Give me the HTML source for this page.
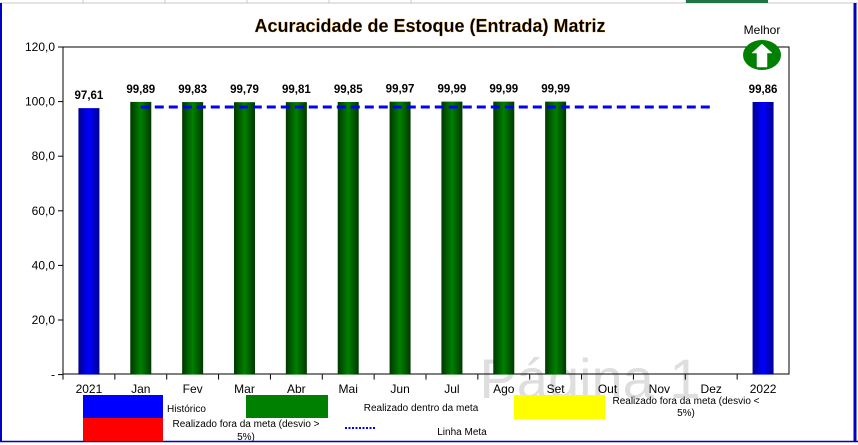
<!DOCTYPE html>
<html><head><meta charset="utf-8"><style>
body{margin:0;background:#fff;width:858px;height:445px;overflow:hidden;font-family:"Liberation Sans",sans-serif}
svg{display:block}
</style></head><body>
<svg id="c" width="858" height="445" xmlns="http://www.w3.org/2000/svg">
<defs>
<linearGradient id="gg" x1="0" x2="1" y1="0" y2="0"><stop offset="0" stop-color="#003800"/><stop offset="0.5" stop-color="#008000"/><stop offset="1" stop-color="#003800"/></linearGradient>
<linearGradient id="gb" x1="0" x2="1" y1="0" y2="0"><stop offset="0" stop-color="#000090"/><stop offset="0.5" stop-color="#0000ff"/><stop offset="1" stop-color="#000090"/></linearGradient>
</defs>
<g>
<line x1="0" y1="3" x2="858" y2="3" stroke="#c8c8c8"/>
<line x1="83" y1="0" x2="83" y2="3" stroke="#c8c8c8"/><line x1="165" y1="0" x2="165" y2="3" stroke="#c8c8c8"/>
<line x1="247" y1="0" x2="247" y2="3" stroke="#c8c8c8"/><line x1="329" y1="0" x2="329" y2="3" stroke="#c8c8c8"/>
<line x1="411" y1="0" x2="411" y2="3" stroke="#c8c8c8"/><line x1="686" y1="0" x2="686" y2="3" stroke="#c8c8c8"/>
<rect x="686" y="0" width="82" height="3" fill="#217346"/>
<line x1="1" y1="3" x2="1" y2="442" stroke="#0000c0" stroke-width="2"/>
<line x1="855" y1="3" x2="855" y2="442" stroke="#0000c0" stroke-width="3"/>
<line x1="0" y1="441.5" x2="858" y2="441.5" stroke="#0000c0" stroke-width="1.5"/>
</g>
<text x="430" y="32" text-anchor="middle" font-size="18" font-weight="bold" fill="#000" stroke="#c87000" stroke-width="0.3">Acuracidade de Estoque (Entrada) Matriz</text>
<text x="590" y="398" text-anchor="middle" font-size="56" fill="#dedede">Página 1</text>
<rect x="63" y="47" width="726" height="327" fill="none" stroke="#000"/>
<g id="yax"></g>
<g id="xax"></g>
<g id="bars"></g>
<g id="meta"></g>
<g>
<text x="762" y="34" text-anchor="middle" font-size="12" fill="#000">Melhor</text>
<ellipse cx="762" cy="55" rx="19" ry="15" fill="#008000"/>
<path d="M762 44 L772 53 L767 53 L767 67 L757 67 L757 53 L752 53 Z" fill="#fff" stroke="#fff" stroke-width="0.5"/>
</g>
<g font-size="10" fill="#000">
<rect x="83" y="395" width="80" height="23" fill="#0000ff"/>
<text x="167" y="412">Histórico</text>
<rect x="246" y="395" width="82" height="23" fill="#008000"/>
<text x="421" y="411" text-anchor="middle">Realizado dentro da meta</text>
<rect x="514" y="395" width="91" height="24" fill="#ffff00"/>
<text x="686" y="404" text-anchor="middle">Realizado fora da meta (desvio &lt;</text>
<text x="686" y="416" text-anchor="middle">5%)</text>
<rect x="83" y="418" width="80" height="23" fill="#ff0000"/>
<text x="246" y="427" text-anchor="middle">Realizado fora da meta (desvio &gt;</text>
<text x="246" y="440" text-anchor="middle">5%)</text>
<line x1="345" y1="428" x2="375" y2="428" stroke="#0000ff" stroke-width="2" stroke-dasharray="2,1.5"/>
<text x="462" y="435" text-anchor="middle">Linha Meta</text>
</g>
</svg>
<script>
const categories=["2021","Jan","Fev","Mar","Abr","Mai","Jun","Jul","Ago","Set","Out","Nov","Dez","2022"];
const values=[97.61,99.89,99.83,99.79,99.81,99.85,99.97,99.99,99.99,99.99,null,null,null,99.86];
const labels=["97,61","99,89","99,83","99,79","99,81","99,85","99,97","99,99","99,99","99,99","","","","99,86"];
const kinds=["hist","ok","ok","ok","ok","ok","ok","ok","ok","ok","ok","ok","ok","hist"];
const metaValue=98;
const yTicks=[0,20,40,60,80,100,120];
const yTickLabels=["-","20,0","40,0","60,0","80,0","100,0","120,0"];
const NS="http://www.w3.org/2000/svg";
const L=63,R=789,T=47,B=374.6,yMax=120;
const band=(R-L)/categories.length;
const y=v=>B-(v/yMax)*(B-T);
const xc=i=>L+band*(i+0.5);
function mk(t,a,p){const e=document.createElementNS(NS,t);for(const k in a)e.setAttribute(k,a[k]);p.appendChild(e);return e;}
const yax=document.getElementById('yax'),xax=document.getElementById('xax'),bars=document.getElementById('bars'),meta=document.getElementById('meta');
yTicks.forEach((v,i)=>{
 mk('line',{x1:L-5,x2:L,y1:y(v),y2:y(v),stroke:'#000'},yax);
 const t=mk('text',{x:L-8,y:y(v)+4,'text-anchor':'end','font-size':12},yax);t.textContent=yTickLabels[i];
 
 
});
categories.forEach((c,i)=>{
 const xx=L+band*i;
 mk('line',{x1:xx,x2:xx,y1:B,y2:B+5,stroke:'#000'},xax);
 const t=mk('text',{x:xc(i),y:393,'text-anchor':'middle','font-size':12},xax);t.textContent=c;
 
 
 if(values[i]==null)return;
 const w=21;
 const r=mk('rect',{x:xc(i)-w/2,y:y(values[i]),width:w,height:B-y(values[i]),fill:kinds[i]=='hist'?'url(#gb)':'url(#gg)'},bars);
 
 
 const lt=mk('text',{x:xc(i),y:y(values[i])-9,'text-anchor':'middle','font-size':11.5,'font-weight':'bold'},bars);lt.textContent=labels[i];
 
 
});
mk('line',{x1:L,x2:L,y1:T,y2:B,stroke:'#000'},yax);
const ml=mk('line',{x1:xc(1),x2:xc(12),y1:y(metaValue),y2:y(metaValue),stroke:'#0000ff','stroke-width':3,'stroke-dasharray':'9,5'},meta);


</script>
</body></html>
